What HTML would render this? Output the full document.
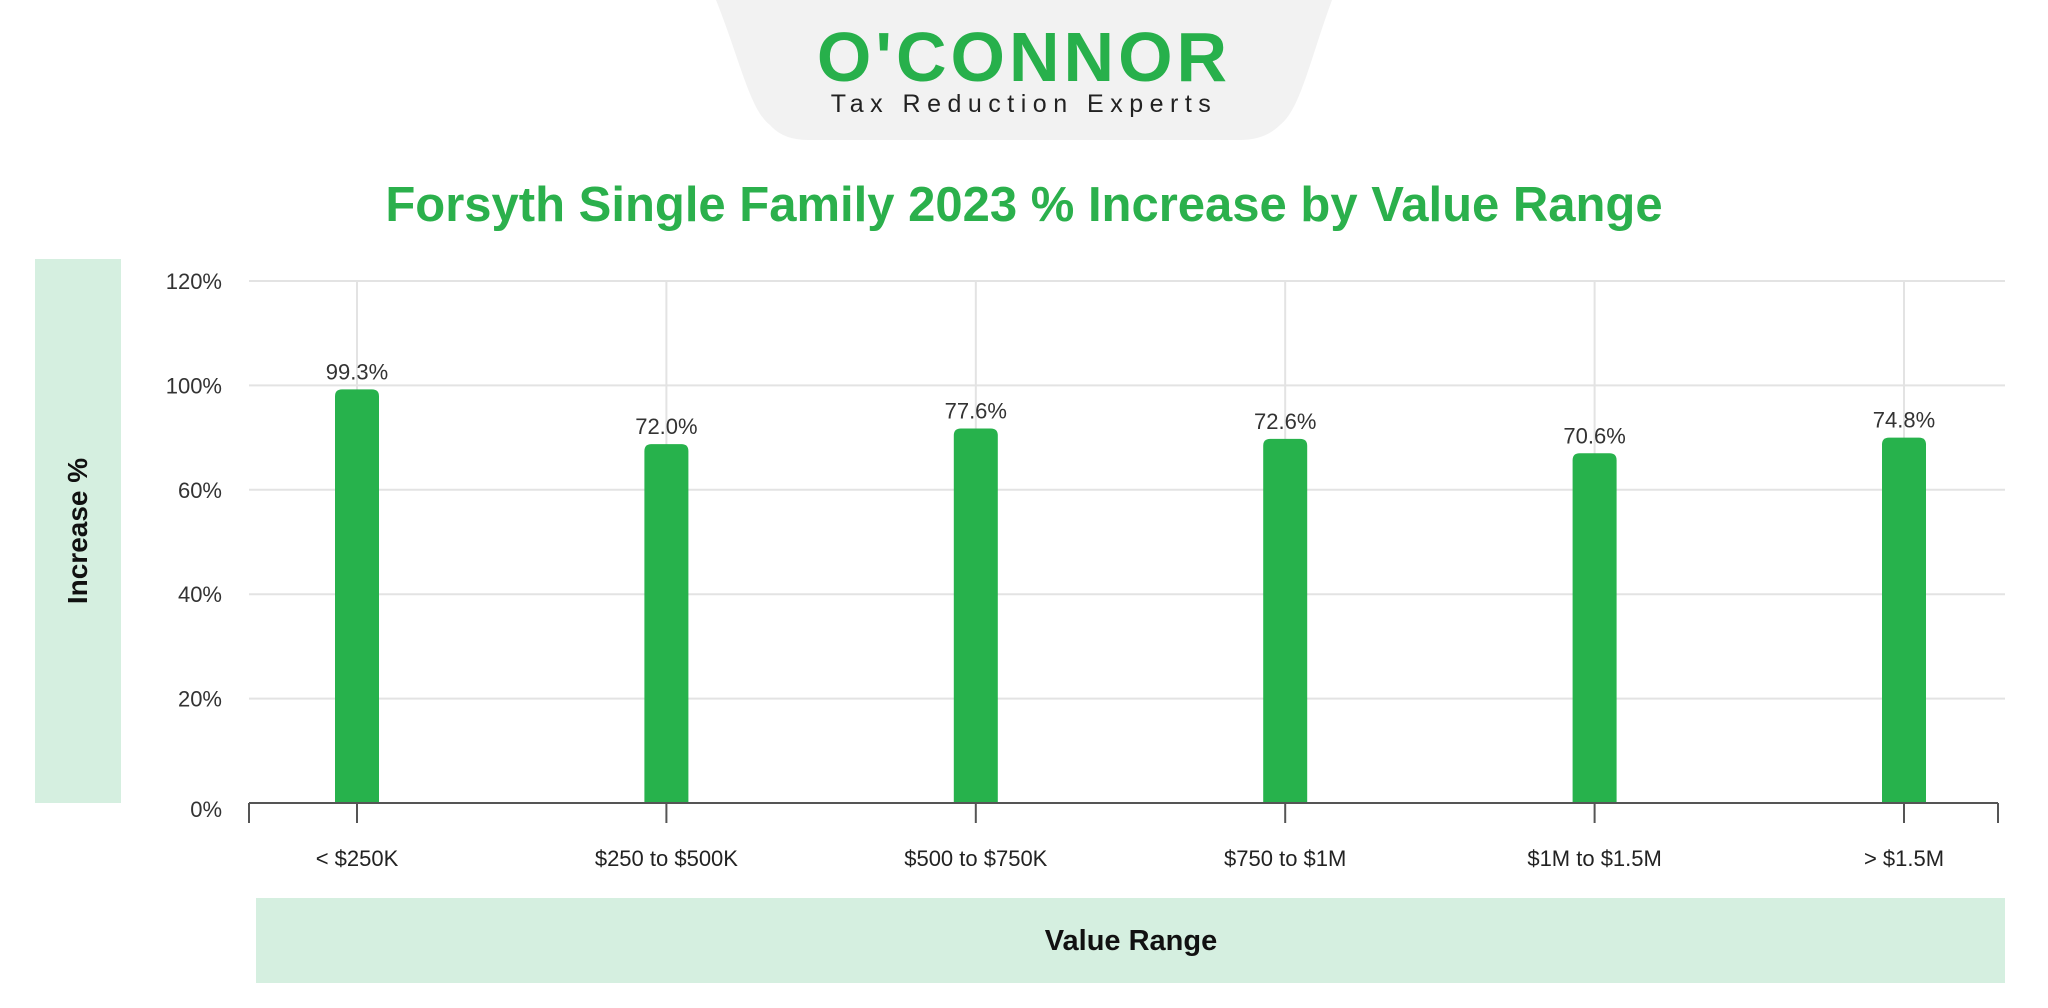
<!DOCTYPE html>
<html><head><meta charset="utf-8"><style>
body{margin:0;width:2048px;height:1008px;background:#fff;overflow:hidden;font-family:"Liberation Sans",sans-serif}
svg{display:block}
</style></head><body>
<svg id="c" width="2048" height="1008">
<path d="M716 0 L1332 0 C1310 60 1300 110 1280 125 Q1265 140 1240 140 L808 140 Q783 140 770 125 C750 110 740 60 716 0Z" fill="#f2f2f2"/>
<text x="1024" y="81" text-anchor="middle" font-size="70" font-weight="bold" fill="#27b04b" letter-spacing="4">O'CONNOR</text>
<text x="1024" y="112" text-anchor="middle" font-size="25" fill="#222" letter-spacing="6.5">Tax Reduction Experts</text>
<text x="1024" y="221" text-anchor="middle" font-size="49" font-weight="bold" fill="#2bb04c">Forsyth Single Family 2023 % Increase by Value Range</text>
<rect x="35" y="259" width="86" height="544" fill="#d5efe0"/>
<text transform="translate(87,531) rotate(-90)" text-anchor="middle" font-size="28" font-weight="bold" fill="#111">Increase %</text>
<rect x="256" y="898" width="1749" height="85" fill="#d5efe0"/>
<text x="1131" y="950" text-anchor="middle" font-size="29" font-weight="bold" fill="#111">Value Range</text>
<g id="g"></g>
</svg>
<script>
const categories=["< $250K","$250 to $500K","$500 to $750K","$750 to $1M","$1M to $1.5M","> $1.5M"];
const labelValues=["99.3%","72.0%","77.6%","72.6%","70.6%","74.8%"];
const barValues=[95.1,82.5,86.1,83.7,80.4,84.0];
const yTicks=[0,24,48,72,96,120];
const yTickLabels=["0%","20%","40%","60%","100%","120%"];
const ns="http://www.w3.org/2000/svg",g=document.getElementById('g');
const L=249,R=2005,Y0=803,Y1=281;
const y=v=>Y0-(v/120)*(Y0-Y1);
const x=i=>357+i*309.4;
function mk(t,a){const e=document.createElementNS(ns,t);for(const k in a)e.setAttribute(k,a[k]);g.appendChild(e);return e;}
yTicks.forEach((t,k)=>{
 if(t>0){const l=mk('line',{x1:L,x2:R,y1:y(t),y2:y(t),stroke:'#e3e3e3','stroke-width':2});
 
 }
 const tx=mk('text',{x:222,y:y(t)+8+(t===0?6:0),'text-anchor':'end','font-size':22,fill:'#333'});tx.textContent=yTickLabels[k];
 
 
});
categories.forEach((c,i)=>{
 const vl=mk('line',{x1:x(i),x2:x(i),y1:Y1,y2:Y0,stroke:'#e3e3e3','stroke-width':2});
 
 
 const tk=mk('line',{x1:x(i),x2:x(i),y1:Y0,y2:Y0+20,stroke:'#555','stroke-width':2});
 
 
 const w=44,top=y(barValues[i]);
 const b=mk('path',{d:`M${x(i)-w/2} ${Y0} V${top+7} Q${x(i)-w/2} ${top} ${x(i)-w/2+7} ${top} H${x(i)+w/2-7} Q${x(i)+w/2} ${top} ${x(i)+w/2} ${top+7} V${Y0}Z`,fill:'#27b24c'});
 
 
 const lb=mk('text',{x:x(i),y:top-10,'text-anchor':'middle','font-size':22,fill:'#333'});lb.textContent=labelValues[i];
 
 
 const cl=mk('text',{x:x(i),y:866,'text-anchor':'middle','font-size':22,fill:'#222'});cl.textContent=c;
 
 
});
[L,1998].forEach(px=>{const t=mk('line',{x1:px,x2:px,y1:Y0,y2:Y0+20,stroke:'#555','stroke-width':2});
 
 });
const ax=mk('line',{x1:L,x2:R-7,y1:Y0,y2:Y0,stroke:'#555','stroke-width':2});


</script>
</body></html>
